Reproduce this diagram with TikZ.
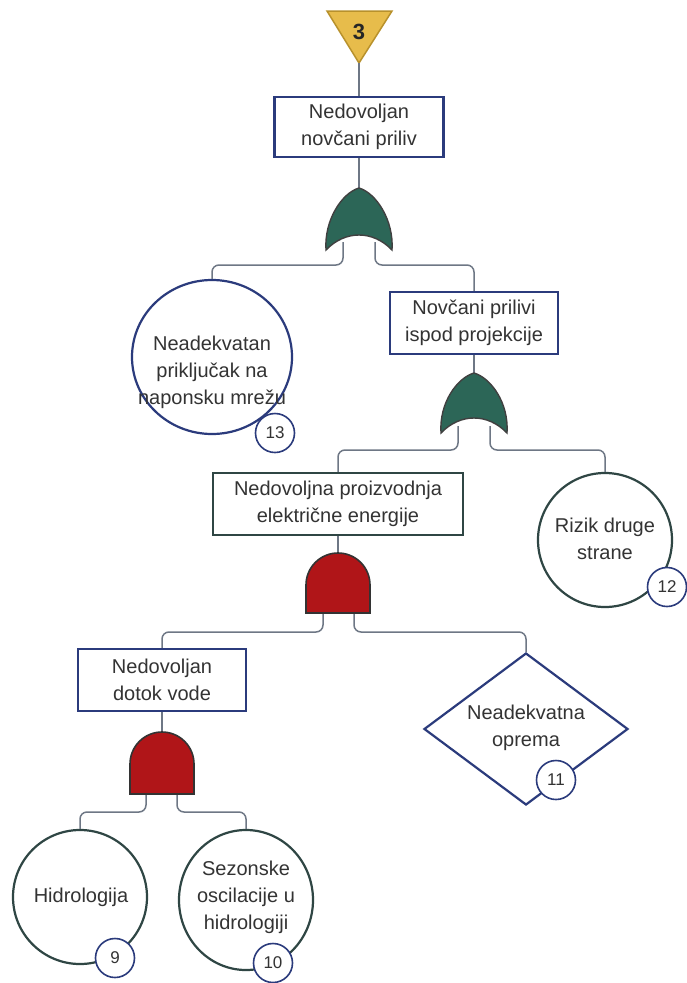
\documentclass[tikz,border=0pt]{standalone}
\usepackage{fontspec}
\setmainfont{Liberation Sans}
\usetikzlibrary{shapes.geometric,calc}
\definecolor{navy}{HTML}{2B3B7C}
\definecolor{slate}{HTML}{2F4644}
\definecolor{connc}{HTML}{6E7785}
\definecolor{orfill}{HTML}{2C6657}
\definecolor{andfill}{HTML}{B01518}
\definecolor{gold}{HTML}{E7BC4B}
\definecolor{goldline}{HTML}{B8912C}
\definecolor{txt}{HTML}{333333}
\newcommand{\ORgate}[3]{%
  \filldraw[fill=orfill, draw=black!75, line width=1.4pt]
    (#1-33,#3) .. controls (#1-35,#3-30) and (#1-17,#2+5) .. (#1,#2)
    .. controls (#1+17,#2+5) and (#1+35,#3-30) .. (#1+33,#3)
    .. controls (#1+14,#3-20) and (#1-14,#3-20) .. cycle;}
\newcommand{\ANDgate}[3]{%
  \filldraw[fill=andfill, draw=black!80, line width=1.6pt]
    (#1-32,#3) -- (#1-32,#2+32) arc[start angle=180, end angle=360, radius=32]
    -- (#1+32,#3) -- cycle;}
\tikzset{
  evbox/.style={draw=navy, line width=2.2pt, fill=white, minimum width=#1,
    minimum height=62, inner sep=0, align=center, text=txt,
    font=\fontsize{20}{27}\selectfont},
  greenbox/.style={evbox=#1, draw=slate},
  evtext/.style={align=center, text=txt, inner sep=0, font=\fontsize{20}{27}\selectfont},
  basic/.style={ellipse, draw=#1, line width=2.2pt, fill=white, inner sep=0},
  numc/.style={circle, draw=navy, fill=white, line width=1.6pt, minimum size=39,
    inner sep=0, text=txt, font=\fontsize{17}{17}\selectfont},
  connline/.style={draw=connc, line width=1.5pt, rounded corners=7},
}
\begin{document}
\begin{tikzpicture}[x=1pt, y=-1pt]
\useasboundingbox (0,0) rectangle (686,983);
\fill[white] (0,0) rectangle (686,983);

% transfer triangle
\filldraw[fill=gold, draw=goldline, line width=1.5pt] (327,11) -- (392,11) -- (359,63) -- cycle;
\node[font=\bfseries\fontsize{22}{22}\selectfont, text=black!85] (t3) at (359,32) {3};
\coordinate (tap) at (359,63);

% boxes
\node[evbox=169, minimum height=60] (b1) at (359,127) {Nedovoljan\\novčani priliv};
\node[evbox=168] (b2) at (474,323) {Novčani prilivi\\ispod projekcije};
\node[greenbox=250] (b3) at (338,504) {Nedovoljna proizvodnja\\električne energije};
\node[evbox=168] (b4) at (162,680) {Nedovoljan\\dotok vode};

% basic events
\node[basic=navy, minimum width=160, minimum height=154] (c13) at (212,357) {};
\node[evtext] (c13t) at (212,372) {Neadekvatan\\priključak na\\naponsku mrežu};
\node[basic=slate, minimum width=134, minimum height=134] (c12) at (605,540) {};
\node[evtext] (c12t) at (605,539) {Rizik druge\\strane};
\node[diamond, draw=navy, line width=2.2pt, fill=white, minimum width=204,
  minimum height=152, inner sep=0] (d11) at (526,729) {};
\node[evtext] (d11t) at (526,728) {Neadekvatna\\oprema};
\node[basic=slate, minimum width=134, minimum height=134] (c9) at (80,897) {};
\node[evtext] (c9t) at (81,897) {Hidrologija};
\node[basic=slate, minimum width=134, minimum height=140] (c10) at (246,900) {};
\node[evtext] (c10t) at (246,897) {Sezonske\\oscilacije u\\hidrologiji};

% number markers
\node[numc] (n13) at (275,433) {13};
\node[numc] (n12) at (667,587) {12};
\node[numc] (n11) at (556,780) {11};
\node[numc] (n9) at (115,958) {9};
\node[numc] (n10) at (273,963) {10};

% gate coordinates
\coordinate (or1) at (359,188);
\coordinate (or1l) at (343,242);
\coordinate (or1r) at (375,242);
\coordinate (or2) at (474,373);
\coordinate (or2l) at (458,426);
\coordinate (or2r) at (490,426);
\coordinate (and1) at (338,553);
\coordinate (and1l) at (323,610);
\coordinate (and1r) at (354,610);
\coordinate (and2) at (162,732);
\coordinate (and2l) at (146,790);
\coordinate (and2r) at (177,790);

% connectors
\draw[connline] (tap) -- (b1.north);
\draw[connline] (b1.south) -- (or1);
\draw[connline] (or1l) -- ++(0,23) -| (c13.north);
\draw[connline] (or1r) -- ++(0,23) -| (b2.north);
\draw[connline] (b2.south) -- (or2);
\draw[connline] (or2l) -- ++(0,24) -| (b3.north);
\draw[connline] (or2r) -- ++(0,24) -| (c12.north);
\draw[connline] (b3.south) -- (and1);
\draw[connline] (and1l) -- ++(0,22) -| (b4.north);
\draw[connline] (and1r) -- ++(0,22) -| (d11.north);
\draw[connline] (b4.south) -- (and2);
\draw[connline] (and2l) -- ++(0,22) -| (c9.north);
\draw[connline] (and2r) -- ++(0,22) -| (c10.north);

% gates
\ORgate{359}{188}{250}
\ORgate{474}{373}{433}
\ANDgate{338}{553}{613}
\ANDgate{162}{732}{794}
\end{tikzpicture}
\end{document}
